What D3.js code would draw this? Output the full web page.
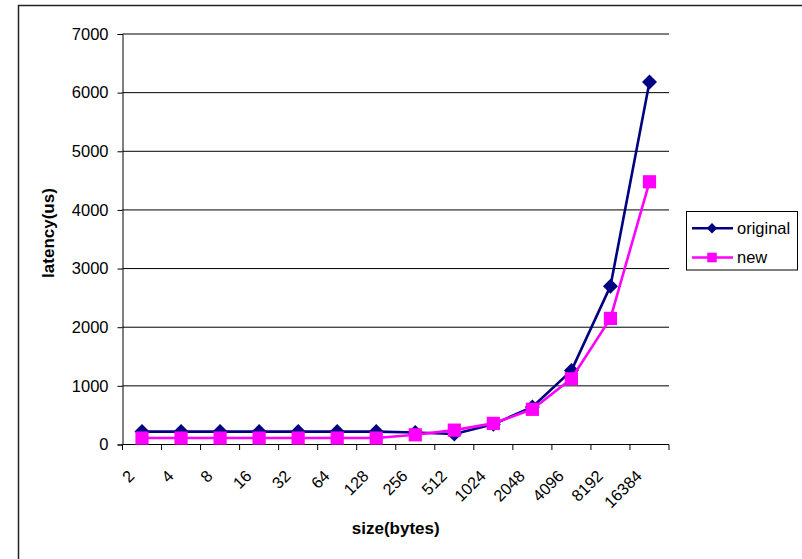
<!DOCTYPE html>
<html>
<head>
<meta charset="utf-8">
<script src="https://cdn.jsdelivr.net/npm/d3@7"></script>
<style>
  html, body { margin: 0; padding: 0; background: #fff; }
  svg { display: block; font-family: "Liberation Sans", Arial, sans-serif; }
</style>
</head>
<body>
<svg id="chart" width="802" height="559"></svg>
<script>
// Message sizes (bytes) on the category axis
const sizes = ["2", "4", "8", "16", "32", "64", "128", "256", "512", "1024", "2048", "4096", "8192", "16384"];
// Latency in microseconds for each implementation
const original = [220, 220, 220, 220, 220, 220, 220, 205, 180, 345, 640, 1260, 2700, 6180];
const newer    = [110, 110, 110, 110, 110, 110, 110, 165, 245, 360, 600, 1120, 2150, 4480];
const yTicks = [0, 1000, 2000, 3000, 4000, 5000, 6000, 7000];

const seriesList = [
  { name: "original", values: original, color: "#000080", marker: "diamond" },
  { name: "new",      values: newer,    color: "#FF00FF", marker: "square" }
];

const svg = d3.select("#chart");
const plotLeft = 122.5, plotRight = 669, plotTop = 34, plotBottom = 444.5;

const x = d3.scaleBand().domain(sizes).range([plotLeft, plotRight]).padding(0);
const y = d3.scaleLinear().domain([0, 7000]).range([plotBottom, plotTop]);

// Outer chart frame
svg.append("rect")
  .attr("x", 18.5).attr("y", 5.5)
  .attr("width", 900).attr("height", 700)
  .attr("fill", "none").attr("stroke", "#222").attr("stroke-width", 1.5);

// Horizontal gridlines
svg.append("g").selectAll("line")
  .data(yTicks.filter(d => d > 0))
  .join("line")
  .attr("x1", plotLeft).attr("x2", plotRight)
  .attr("y1", d => y(d)).attr("y2", d => y(d))
  .attr("stroke", "#000").attr("stroke-width", 1);

// Y axis
const yAxis = svg.append("g")
  .attr("transform", `translate(${plotLeft},0)`)
  .call(d3.axisLeft(y).tickValues(yTicks).tickSize(5).tickPadding(9).tickFormat(d3.format("d")));
yAxis.select(".domain").attr("stroke", "#000");
yAxis.selectAll(".tick line").attr("stroke", "#000");
yAxis.selectAll("text")
  .attr("font-size", "16.5px").attr("fill", "#000")
  .attr("font-family", "Liberation Sans, Arial, sans-serif");

// X axis: ticks on band boundaries
svg.append("line")
  .attr("x1", plotLeft).attr("x2", plotRight)
  .attr("y1", plotBottom).attr("y2", plotBottom)
  .attr("stroke", "#000");
const boundaries = sizes.map(s => x(s)).concat([plotRight]);
svg.append("g").selectAll("line")
  .data(boundaries)
  .join("line")
  .attr("x1", d => d).attr("x2", d => d)
  .attr("y1", plotBottom).attr("y2", plotBottom + 5.5)
  .attr("stroke", "#000");

// Rotated category labels, baseline ending just left of each category centre
svg.append("g").selectAll("text")
  .data(sizes)
  .join("text")
  .attr("transform", d => `translate(${x(d) + x.bandwidth() / 2 - 6.5},${plotBottom + 32.5}) rotate(-45)`)
  .attr("text-anchor", "end")
  .attr("font-size", "16.3px")
  .attr("fill", "#000")
  .text(d => d);

// Axis titles
svg.append("text")
  .attr("x", (plotLeft + plotRight) / 2).attr("y", 534)
  .attr("text-anchor", "middle")
  .attr("font-size", "17px").attr("font-weight", "bold")
  .text("size(bytes)");
svg.append("text")
  .attr("transform", "translate(54,233) rotate(-90)")
  .attr("text-anchor", "middle")
  .attr("font-size", "17px").attr("font-weight", "bold")
  .text("latency(us)");

const cx = (d, i) => x(sizes[i]) + x.bandwidth() / 2;

function markerPath(kind, r) {
  if (kind === "diamond") return `M0,${-r}L${r},0L0,${r}L${-r},0Z`;
  return `M${-r},${-r}H${r}V${r}H${-r}Z`;
}

// Series lines and markers
seriesList.forEach(s => {
  const line = d3.line().x((d, i) => cx(d, i)).y(d => y(d));
  svg.append("path")
    .datum(s.values)
    .attr("d", line)
    .attr("fill", "none")
    .attr("stroke", s.color)
    .attr("stroke-width", 2.6)
    .attr("stroke-linejoin", "round");
  svg.append("g").selectAll("path")
    .data(s.values)
    .join("path")
    .attr("transform", (d, i) => `translate(${cx(d, i)},${y(d)})`)
    .attr("d", markerPath(s.marker, s.marker === "diamond" ? 7.5 : 6.6))
    .attr("fill", s.color);
});

// Legend
const legend = svg.append("g");
legend.append("rect")
  .attr("x", 686.5).attr("y", 211.5)
  .attr("width", 111).attr("height", 58.5)
  .attr("fill", "#fff").attr("stroke", "#000").attr("stroke-width", 1);
const rowY = [228.3, 257.5];
seriesList.forEach((s, i) => {
  const g = legend.append("g").attr("transform", `translate(0,${rowY[i]})`);
  g.append("line")
    .attr("x1", 692).attr("x2", 733)
    .attr("y1", 0).attr("y2", 0)
    .attr("stroke", s.color).attr("stroke-width", 2.6);
  g.append("path")
    .attr("transform", "translate(712,0)")
    .attr("d", markerPath(s.marker, s.marker === "diamond" ? 5.2 : 4.8))
    .attr("fill", s.color);
  g.append("text")
    .attr("x", 737).attr("y", 0)
    .attr("dy", "0.35em")
    .attr("font-size", "16.5px")
    .attr("fill", "#000")
    .text(s.name);
});
</script>
</body>
</html>
